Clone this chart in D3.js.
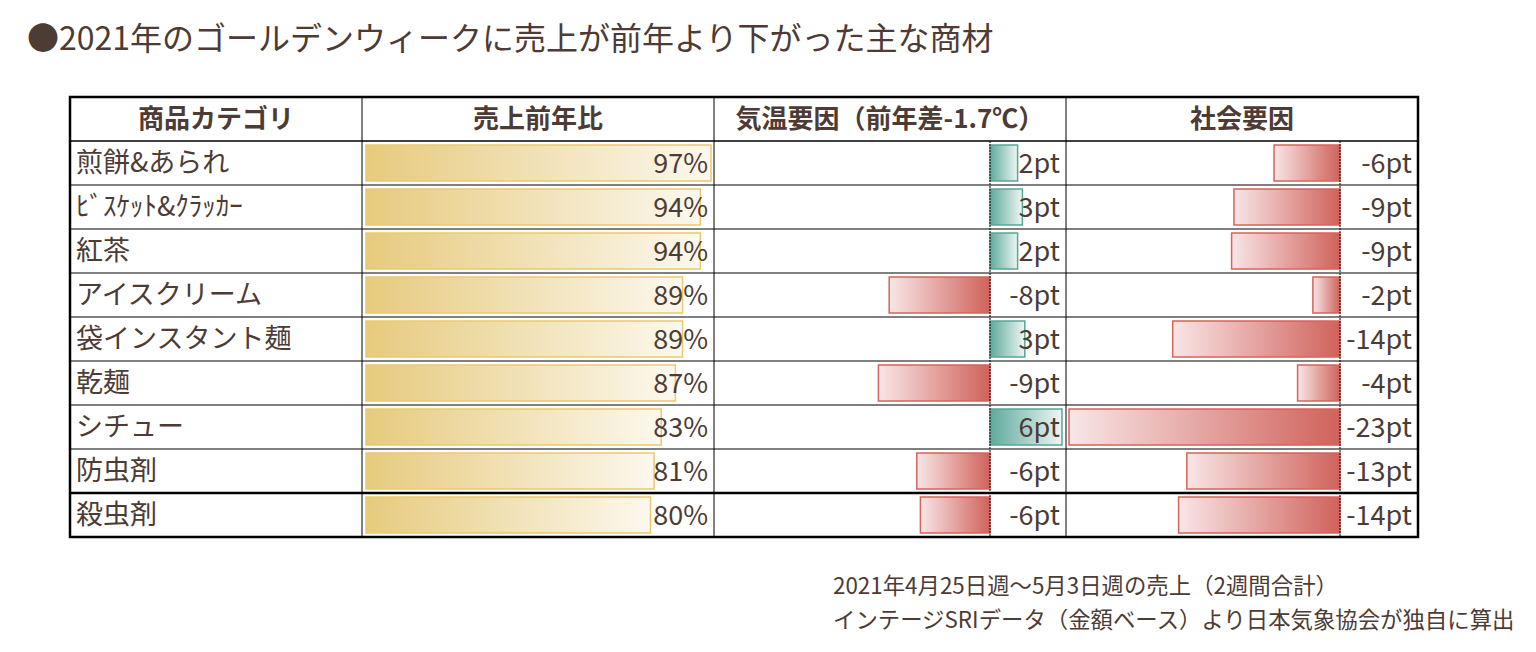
<!DOCTYPE html>
<html>
<head>
<meta charset="utf-8">
<script src="https://cdn.jsdelivr.net/npm/d3@7"></script>
<style>
  body { margin: 0; background: #fff; }
  svg { display: block; font-family: "Noto Sans CJK JP", "Noto Sans", sans-serif; }
</style>
</head>
<body>
<svg id="chart"></svg>
<script>
const titleText = "●2021年のゴールデンウィークに売上が前年より下がった主な商材";
const headers = ["商品カテゴリ", "売上前年比", "気温要因（前年差-1.7℃）", "社会要因"];
const categories = ["煎餅&あられ", "ﾋﾞｽｹｯﾄ&ｸﾗｯｶｰ", "紅茶", "アイスクリーム", "袋インスタント麺", "乾麺", "シチュー", "防虫剤", "殺虫剤"];
const salesRatio = [97, 94, 94, 89, 89, 87, 83, 81, 80];
const tempFactor = [2.3, 2.7, 2.3, -8.4, 2.9, -9.3, 6.0, -6.1, -5.8];
const socialFactor = [-5.6, -9.0, -9.2, -2.3, -14.2, -3.6, -23.0, -13.0, -13.7];
const notes = ["2021年4月25日週～5月3日週の売上（2週間合計）", "インテージSRIデータ（金額ベース）より日本気象協会が独自に算出"];

const width = 1536, height = 652;
const ink = "#4d3b35";
const svg = d3.select("#chart").attr("width", width).attr("height", height);
const defs = svg.append("defs");

function grad(id, c0, c1) {
    const g = defs.append("linearGradient").attr("id", id)
        .attr("x1", "0%").attr("x2", "100%").attr("y1", "0%").attr("y2", "0%");
    g.append("stop").attr("offset", "0%").attr("stop-color", c0);
    g.append("stop").attr("offset", "100%").attr("stop-color", c1);
}
grad("gold", "#e6ca7e", "#fcf8ee");
grad("red", "#f8e6e6", "#d0625b");
grad("teal", "#5ea99c", "#eef6f4");

// title
svg.append("text").attr("x", 27).attr("y", 50)
    .attr("font-size", 32).attr("fill", ink).text(titleText);

// table geometry
const colX = [70, 362, 714, 1066, 1418];
const tableTop = 97, headerBottom = 141;
const y = d3.scaleBand().domain(categories).range([headerBottom, 537]).padding(0);
const rh = y.bandwidth();

const rows = categories.map((c, i) => ({ cat: c, sales: salesRatio[i], temp: tempFactor[i], social: socialFactor[i] }));

// scales
const xSales = d3.scaleLinear().domain([0, 97]).range([colX[1] + 4, colX[1] + 349]);
const xTemp = d3.scaleLinear().domain([-10, 6]).range([colX[2] + 156, colX[2] + 348]);
const xSocial = d3.scaleLinear().domain([-23, 0]).range([colX[3] + 3, colX[3] + 274]);

const body = svg.append("g");

// sales bars
body.selectAll(".sbar").data(rows).enter().append("rect")
    .attr("x", xSales(0)).attr("y", d => y(d.cat) + 4)
    .attr("width", d => xSales(d.sales) - xSales(0)).attr("height", rh - 8)
    .attr("fill", "url(#gold)").attr("stroke", "#ebc96e").attr("stroke-width", 1.5);

// diverging bars
function divBars(key, sc) {
    body.selectAll(".b" + key).data(rows).enter().append("rect")
        .attr("x", d => sc(Math.min(0, d[key])))
        .attr("y", d => y(d.cat) + 4)
        .attr("width", d => Math.abs(sc(d[key]) - sc(0)))
        .attr("height", rh - 8)
        .attr("fill", d => d[key] < 0 ? "url(#red)" : "url(#teal)")
        .attr("stroke", d => d[key] < 0 ? "#d9625b" : "#5aa597")
        .attr("stroke-width", 1.5);
    body.append("line")
        .attr("x1", sc(0)).attr("x2", sc(0))
        .attr("y1", headerBottom).attr("y2", 537)
        .attr("stroke", "#000").attr("stroke-width", 1).attr("stroke-dasharray", "2,1");
}
divBars("temp", xTemp);
divBars("social", xSocial);

// text cells
const fmtPt = v => Math.round(v) + "pt";
body.selectAll(".cat").data(rows).enter().append("text")
    .attr("x", colX[0] + 6).attr("y", d => y(d.cat) + rh / 2 + 9)
    .attr("font-size", 27).attr("fill", ink).text(d => d.cat);

const valueCols = [
    { col: 2, f: d => d.sales + "%" },
    { col: 3, f: d => fmtPt(d.temp) },
    { col: 4, f: d => fmtPt(d.social) }
];
valueCols.forEach(vc => {
    body.selectAll(null).data(rows).enter().append("text")
        .attr("x", colX[vc.col] - 6).attr("y", d => y(d.cat) + rh / 2 + 10)
        .attr("text-anchor", "end").attr("font-size", 27).attr("fill", ink)
        .text(vc.f);
});

// header
headers.forEach((h, i) => {
    svg.append("text").attr("x", (colX[i] + colX[i + 1]) / 2).attr("y", 128)
        .attr("text-anchor", "middle").attr("font-size", 26).attr("font-weight", "bold")
        .attr("fill", ink).text(h);
});

// grid lines
const grid = svg.append("g").attr("stroke", "#000");
colX.slice(1, 4).forEach(x => {
    grid.append("line").attr("x1", x).attr("x2", x).attr("y1", tableTop).attr("y2", 537).attr("stroke-width", 1);
});
categories.forEach((c, i) => {
    const yy = y(c);
    grid.append("line").attr("x1", colX[0]).attr("x2", colX[4]).attr("y1", yy).attr("y2", yy)
        .attr("stroke-width", i === 8 ? 2.5 : (i === 0 ? 1.5 : 1));
});
grid.append("rect").attr("x", colX[0]).attr("y", tableTop)
    .attr("width", colX[4] - colX[0]).attr("height", 537 - tableTop)
    .attr("fill", "none").attr("stroke-width", 2.5);

// notes
svg.selectAll(".note").data(notes).enter().append("text")
    .attr("x", 833).attr("y", (d, i) => 594 + i * 34)
    .attr("font-size", 22.4).attr("fill", ink).text(d => d);
</script>
</body>
</html>
